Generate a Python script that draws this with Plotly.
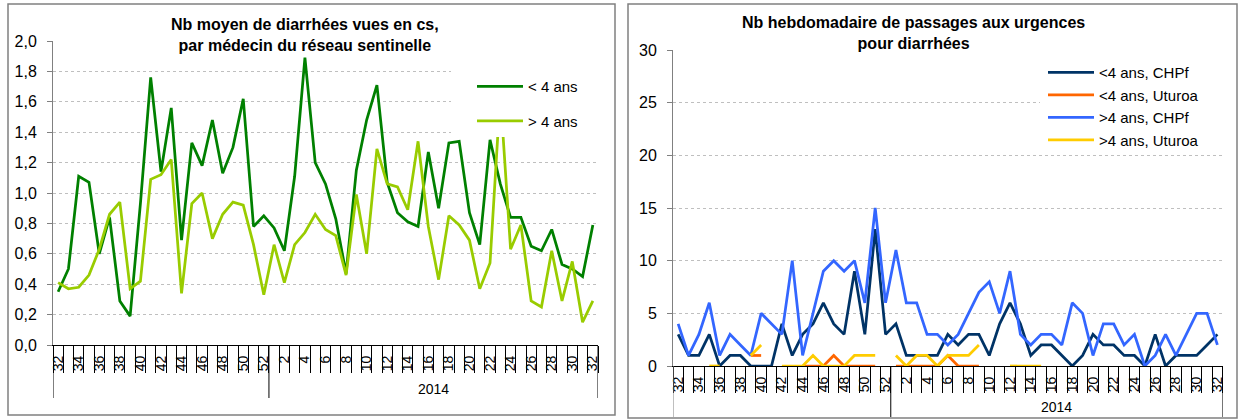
import plotly.graph_objects as go

W, H = 1241, 419

# ---------------- data ----------------
weeks_2013 = list(range(32, 53))
weeks_2014 = list(range(1, 33))
week_numbers = weeks_2013 + weeks_2014
x_index = list(range(len(week_numbers)))
tick_index = [i for i, w in enumerate(week_numbers) if w % 2 == 0]
tick_text = [str(week_numbers[i]) for i in tick_index]
year_label = "2014"

# Nb moyen de diarrhées vues en cs, par médecin du réseau sentinelle
cs_lt4 = [0.35, 0.50, 1.11, 1.07, 0.60, 0.84, 0.29, 0.19, 0.93, 1.76,
          1.14, 1.56, 0.69, 1.33, 1.18, 1.48, 1.13, 1.30, 1.62, 0.78,
          0.85, 0.77, 0.62, 1.11, 1.89, 1.20, 1.06, 0.83, 0.47, 1.15,
          1.48, 1.71, 1.07, 0.87, 0.81, 0.78, 1.27, 0.90, 1.33, 1.34,
          0.87, 0.66, 1.35, 1.06, 0.84, 0.84, 0.65, 0.62, 0.76, 0.53,
          0.50, 0.45, 0.79]
cs_gt4 = [0.41, 0.37, 0.38, 0.46, 0.63, 0.86, 0.94, 0.37, 0.42, 1.09,
          1.12, 1.22, 0.34, 0.93, 1.00, 0.70, 0.86, 0.94, 0.92, 0.66,
          0.33, 0.66, 0.41, 0.66, 0.74, 0.86, 0.76, 0.72, 0.46, 0.99,
          0.60, 1.29, 1.06, 1.04, 0.89, 1.34, 0.78, 0.43, 0.85, 0.79,
          0.69, 0.37, 0.54, 1.65, 0.63, 0.79, 0.29, 0.25, 0.62, 0.29,
          0.55, 0.15, 0.29]

# Nb hebdomadaire de passages aux urgences pour diarrhées
N = None
urg_lt4_chpf = [3, 1, 1, 3, 0, 1, 1, 0, 0, 0,
                4, 1, 3, 4, 6, 4, 3, 9, 3, 13,
                3, 4, 1, 1, 1, 1, 3, 2, 3, 3,
                1, 4, 6, 4, 1, 2, 2, 1, 0, 1,
                3, 2, 2, 1, 1, 0, 3, 0, 1, 1,
                1, 2, 3]
urg_lt4_uturoa = [N, N, N, N, N, N, N, 1, 1, N,
                  N, N, 0, 0, 0, 1, 0, 0, 0, 0,
                  N, 0, 0, 0, 0, 0, 1, 0, 0, 0,
                  N, N, N, N, N, N, N, N, N, N,
                  N, N, N, N, N, N, N, N, N, N,
                  N, N, N]
urg_gt4_chpf = [4, 1, 3, 6, 1, 3, 2, 1, 5, 4,
                3, 10, 1, 5, 9, 10, 9, 10, 6, 15,
                6, 11, 6, 6, 3, 3, 2, 3, 5, 7,
                8, 5, 9, 3, 2, 3, 3, 2, 6, 5,
                1, 4, 4, 2, 3, 0, 1, 3, 1, 3,
                5, 5, 2]
urg_gt4_uturoa = [N, N, N, 0, 0, N, N, 1, 2, N,
                  0, 0, 0, 1, 0, 0, 0, 1, 1, 1,
                  N, 1, 0, 1, 1, 0, 1, 1, 1, 2,
                  N, N, 0, 0, 0, 0, N, N, N, N,
                  N, N, N, N, N, N, N, N, N, N,
                  N, N, N]

left_title = "Nb moyen de diarrhées vues en cs,<br>par médecin du réseau sentinelle"
right_title = "Nb hebdomadaire de passages aux urgences<br>pour diarrhées"

FONT = "Liberation Sans, Arial, sans-serif"


def px(p):
    return p / W


def py(p):
    return 1 - p / H


fig = go.Figure()

# left chart traces
fig.add_trace(go.Scatter(x=x_index, y=cs_lt4, mode="lines", name="< 4 ans",
                         line=dict(color="#008000", width=2.75),
                         xaxis="x", yaxis="y", legend="legend", legendgroup="g1"))
fig.add_trace(go.Scatter(x=x_index, y=cs_gt4, mode="lines", name="> 4 ans",
                         line=dict(color="#99CC00", width=2.75),
                         xaxis="x", yaxis="y", legend="legend", legendgroup="g2"))

# right chart traces
right_series = [
    ("<4 ans, CHPf", urg_lt4_chpf, "#003366"),
    ("<4 ans, Uturoa", urg_lt4_uturoa, "#FF6600"),
    (">4 ans, CHPf", urg_gt4_chpf, "#3366FF"),
    (">4 ans, Uturoa", urg_gt4_uturoa, "#FFCC00"),
]
for k, (nm, vals, col) in enumerate(right_series):
    fig.add_trace(go.Scatter(x=x_index, y=vals, mode="lines", name=nm,
                             line=dict(color=col, width=2.75),
                             xaxis="x2", yaxis="y2", legend="legend2"))

minor_vals = [i - 0.5 for i in range(len(week_numbers) + 1)]

xcommon = dict(range=[-0.5, len(week_numbers) - 0.5], tickmode="array",
               tickvals=tick_index, ticktext=tick_text, tickangle=-90,
               ticks="", showline=True, linecolor="black", linewidth=1,
               showgrid=False, zeroline=False, automargin=False,
               tickfont=dict(family=FONT, size=14, color="black"),
               ticklabelstandoff=4)

ycommon = dict(showline=True, linecolor="#808080", linewidth=1,
               ticks="outside", ticklen=5, tickcolor="#808080",
               showgrid=True, gridcolor="#BFBFBF", griddash="dot", gridwidth=1,
               zeroline=False, automargin=False,
               tickfont=dict(family=FONT, size=16, color="black"),
               ticklabelstandoff=7)

fig.update_layout(
    width=W, height=H,
    margin=dict(l=0, r=0, t=0, b=0, pad=0, autoexpand=False),
    paper_bgcolor="white", plot_bgcolor="white",
    separators=", ",
    font=dict(family=FONT, color="black"),
    xaxis=dict(domain=[px(53), px(598)], anchor="y",
               minor=dict(tickmode="array", tickvals=minor_vals, ticks="outside",
                          ticklen=27, tickcolor="black", tickwidth=1, showgrid=False),
               **xcommon),
    yaxis=dict(domain=[py(345), py(41)], anchor="x", range=[0, 2], dtick=0.2,
               tickformat=".1f", **ycommon),
    xaxis2=dict(domain=[px(673), px(1222.6)], anchor="y2",
                minor=dict(tickmode="array", tickvals=minor_vals, ticks="outside",
                           ticklen=26, tickcolor="black", tickwidth=1, showgrid=False),
                **xcommon),
    yaxis2=dict(domain=[py(366), py(50)], anchor="x2", range=[0, 30], dtick=5,
                **ycommon),
    legend=dict(x=px(472), y=py(70), xanchor="left", yanchor="top",
                bgcolor="rgba(0,0,0,0)", borderwidth=0, itemwidth=46,
                tracegroupgap=12, traceorder="grouped",
                font=dict(family=FONT, size=15, color="black")),
    legend2=dict(x=px(1043), y=py(56), xanchor="left", yanchor="top",
                 bgcolor="rgba(0,0,0,0)", borderwidth=0, itemwidth=46,
                 traceorder="normal",
                 font=dict(family=FONT, size=15, color="black")),
    showlegend=True,
)

shapes = []
# white boxes behind titles and legends (as in the spreadsheet chart)
for (x0, y0, x1, y1) in [(155, 8, 451, 56), (451, 50, 598, 137),
                         (728, 6, 1103, 57), (1040, 58, 1223, 150)]:
    shapes.append(dict(type="rect", xref="paper", yref="paper",
                       x0=px(x0), x1=px(x1), y0=py(y1), y1=py(y0),
                       fillcolor="white", line=dict(width=0), layer="above"))
# long category group dividers
for xv in [-0.5, 20.5, len(week_numbers) - 0.5]:
    shapes.append(dict(type="line", xref="x", yref="paper", x0=xv, x1=xv,
                       y0=py(345), y1=py(398), line=dict(color="black", width=1)))
    shapes.append(dict(type="line", xref="x2", yref="paper", x0=xv, x1=xv,
                       y0=py(366), y1=py(417),
                       line=dict(color="#808080" if xv < 0 else "black", width=1)))
# chart borders
shapes.append(dict(type="rect", xref="paper", yref="paper", x0=px(8), x1=px(615),
                   y0=py(415), y1=py(4), line=dict(color="#808080", width=1.5)))
shapes.append(dict(type="rect", xref="paper", yref="paper", x0=px(628), x1=px(1237),
                   y0=py(418), y1=py(4), line=dict(color="#808080", width=1.5)))
fig.update_layout(shapes=shapes)

annotations = [
    dict(text="<b>" + left_title.replace("<br>", "</b><br><b>") + "</b>",
         xref="paper", yref="paper", x=px(305), y=py(35), xanchor="center",
         yanchor="middle", showarrow=False, align="center",
         font=dict(family=FONT, size=16, color="black")),
    dict(text="<b>" + right_title.replace("<br>", "</b><br><b>") + "</b>",
         xref="paper", yref="paper", x=px(914), y=py(33), xanchor="center",
         yanchor="middle", showarrow=False, align="center",
         font=dict(family=FONT, size=16, color="black")),
    dict(text=year_label, xref="x", yref="paper", x=36.5, y=py(389),
         xanchor="center", yanchor="middle", showarrow=False,
         font=dict(family=FONT, size=14, color="black")),
    dict(text=year_label, xref="x2", yref="paper", x=36.5, y=py(407),
         xanchor="center", yanchor="middle", showarrow=False,
         font=dict(family=FONT, size=14, color="black")),
]
fig.update_layout(annotations=annotations)

fig.write_html("out.html",
               config={"displayModeBar": False},
               post_script="document.body.style.margin='0px';"
                           "document.body.style.overflow='hidden';")
